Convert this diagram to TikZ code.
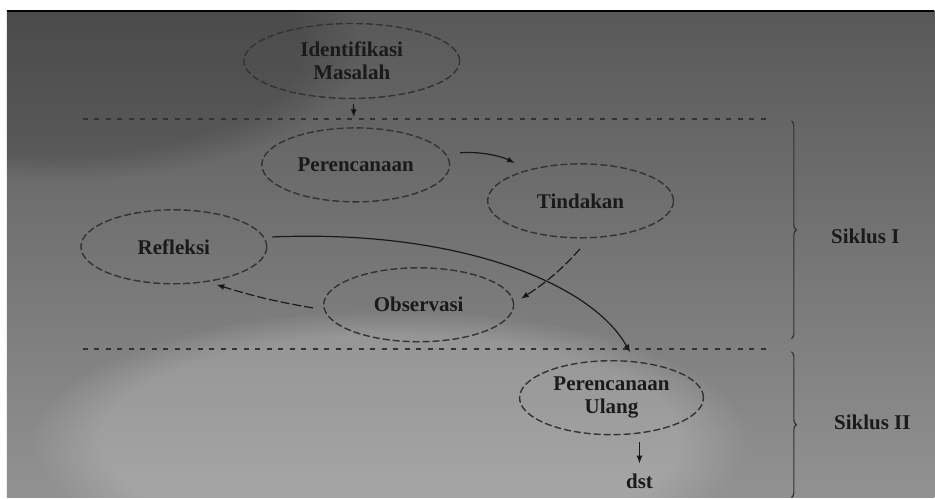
\documentclass[tikz,border=0pt]{standalone}
\usepackage{fontspec}
\setmainfont{Liberation Serif}
\usetikzlibrary{arrows, arrows.meta, shapes, positioning, decorations.pathreplacing, fadings}
\definecolor{ink}{HTML}{1A1A1A}
\definecolor{rim}{HTML}{333333}
\definecolor{bgtop}{HTML}{585858}
\definecolor{bgmid}{HTML}{7E7E7E}
\definecolor{bgbot}{HTML}{929292}

\begin{document}
\begin{tikzpicture}[x=1pt,y=-1pt,on grid,->,>={Latex[length=8pt,width=6pt]},line width=1.2pt,
	font=\fontsize{21}{23}\selectfont\bfseries]

	\tikzset{node cyc/.style={ellipse, draw=rim, dash pattern=on 7pt off 3pt,
			line width=1.4pt, text=ink, align=center,
			minimum width=186pt, minimum height=74pt, inner sep=0pt}}
	\tikzset{node txt/.style={text=ink, inner sep=0pt}}
	\tikzset{sep line/.style={-, draw=rim, line width=2pt,
			dash pattern=on 5pt off 6.5pt}}
	\tikzset{siklus/.style={-, draw=rim, line width=1.2pt,
			decorate, decoration={brace, amplitude=5pt}}}

	% photo background
	\fill[-, white] (0,0) rectangle (935,498);
	\shade[-, top color=bgtop, middle color=bgmid, bottom color=bgbot]
		(7,11) rectangle (935,498);
	\begin{scope}
		\clip (7,11) rectangle (935,498);
		\fill[-, black, opacity=0.15, path fading=circle with fuzzy edge 20 percent]
			(60,50) ellipse (300 and 130);
		\fill[-, white, opacity=0.18, path fading=circle with fuzzy edge 20 percent]
			(390,440) ellipse (360 and 130);
	\end{scope}
	\draw[-, line width=1.5pt] (7,11) -- (935,11);

	% cycle nodes
	\node[node cyc, minimum width=216pt, minimum height=75pt] (idm) at (352,61)
		{Identifikasi\\Masalah};
	\node[node cyc, minimum width=188pt, below=104pt of idm, xshift=4pt] (plan) {Perencanaan};
	\node[node cyc, below right=36pt and 225pt of plan] (act) {Tindakan};
	\node[node cyc, below left=82pt and 182pt of plan] (refl) {Refleksi};
	\node[node cyc, minimum width=190pt, below left=104pt and 162pt of act] (obs) {Observasi};
	\node[node cyc, minimum width=184pt, below right=93pt and 193pt of obs] (plan2)
		{Perencanaan\\Ulang};
	\node[node txt, below right=84pt and 28pt of plan2] (dst) {dst};

	% siklus borders
	\coordinate (d1w) at (83,119);
	\coordinate (d1e) at (770,119);
	\coordinate (d2w) at (83,349);
	\coordinate (d2e) at (770,349);
	\draw[sep line] (d1w) -- (d1e);
	\draw[sep line] (d2w) -- (d2e);

	\coordinate (b1n) at (792,121);
	\coordinate (b1s) at (792,339);
	\coordinate (b2n) at (792,352);
	\coordinate (b2s) at (792,498);
	\draw[siklus] (b1n) -- (b1s);
	\draw[siklus] (b2n) -- (b2s);
	\node[node txt] (sik1) at (866,237) {Siklus I};
	\node[node txt] (sik2) at (873,423) {Siklus II};

	% arrows
	\draw[-, draw=ink]
	(idm) edge[->, shorten <=5pt, shorten >=10pt] (plan)
	(plan.7) edge[->, bend left=15, shorten <=14pt, shorten >=15pt] (act.149)
	(act.-77) edge[->, bend left=8, shorten <=14pt, shorten >=8pt,
		dash pattern=on 9pt off 3pt] (obs.1)
	(obs.183) edge[->, bend left=4, shorten <=11pt, shorten >=9pt,
		dash pattern=on 9pt off 3pt] (refl.-46)
	(dst.north |- plan2.south) edge[->, shorten <=7pt, shorten >=10pt] (dst.north);

	\draw[draw=ink, shorten <=8pt, shorten >=10pt]
		(refl.6) .. controls +(190,-8) and +(-45,-80) .. (plan2.57);
\end{tikzpicture}
\end{document}
